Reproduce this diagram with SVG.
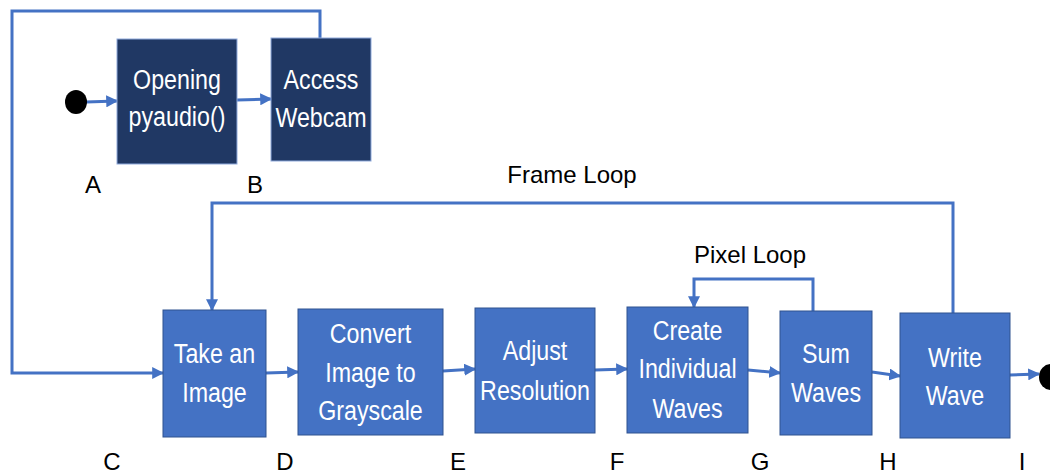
<svg xmlns="http://www.w3.org/2000/svg" width="1050" height="474" viewBox="0 0 1050 474">
<style>
.dark{fill:#203864;stroke:#8FAADC;stroke-width:1}
.box{fill:#4472C4;stroke:#2F528F;stroke-width:1}
.nt{font-family:"Liberation Sans",Arial,sans-serif;font-size:28px;fill:#FFFFFF;text-anchor:middle}
.lb{font-family:"Liberation Sans",Arial,sans-serif;font-size:24px;fill:#000000;text-anchor:middle}
.c{fill:none;stroke:#4472C4;stroke-width:3}
.ca{fill:none;stroke:#4472C4;stroke-width:3;marker-end:url(#ah)}
</style>
<defs>
<marker id="ah" viewBox="0 0 10 10" refX="9" refY="5" markerWidth="4" markerHeight="4" orient="auto" markerUnits="strokeWidth">
<path d="M0,0 L10,5 L0,10 z" fill="#4472C4"/>
</marker>
</defs>
<rect width="1050" height="474" fill="#FFFFFF"/>
<g id="connectors">
<line class="ca" x1="86" y1="102" x2="117" y2="101"/>
<line class="ca" x1="237" y1="100" x2="271" y2="99"/>
<polyline class="ca" points="320,38 320,11 12,11 12,373 163,373"/>
<line class="ca" x1="266" y1="373" x2="298" y2="372"/>
<line class="ca" x1="443" y1="371" x2="475" y2="369"/>
<line class="ca" x1="595" y1="370" x2="627" y2="369"/>
<line class="ca" x1="748" y1="370" x2="780" y2="373"/>
<line class="ca" x1="872" y1="372" x2="900" y2="376"/>
<line class="ca" x1="1010" y1="375" x2="1039" y2="374"/>
<polyline class="ca" points="953,313 953,203 212,203 212,310"/>
<polyline class="ca" points="813,311 813,279 694,279 694,307"/>
</g>
<g id="start"><ellipse cx="76" cy="102" rx="11" ry="12" fill="#000000"/></g>
<g id="end"><ellipse cx="1051" cy="377" rx="12" ry="13" fill="#000000"/></g>
<g id="n1">
<rect class="dark" x="117" y="39" width="120" height="125"/>
<text class="nt" transform="translate(177,0) scale(0.83,1)"><tspan x="0" y="89">Opening</tspan><tspan x="0" y="126">pyaudio()</tspan></text>
</g>
<g id="n2">
<rect class="dark" x="271" y="38" width="100" height="123"/>
<text class="nt" transform="translate(321,0) scale(0.83,1)"><tspan x="0" y="89">Access</tspan><tspan x="0" y="127">Webcam</tspan></text>
</g>
<g id="n3">
<rect class="box" x="163" y="310" width="103" height="127"/>
<text class="nt" transform="translate(214.5,0) scale(0.83,1)"><tspan x="0" y="363">Take an</tspan><tspan x="0" y="402">Image</tspan></text>
</g>
<g id="n4">
<rect class="box" x="298" y="309" width="145" height="126"/>
<text class="nt" transform="translate(370.5,0) scale(0.83,1)"><tspan x="0" y="343">Convert</tspan><tspan x="0" y="382">Image to</tspan><tspan x="0" y="420">Grayscale</tspan></text>
</g>
<g id="n5">
<rect class="box" x="475" y="308" width="120" height="125"/>
<text class="nt" transform="translate(535,0) scale(0.83,1)"><tspan x="0" y="360">Adjust</tspan><tspan x="0" y="400">Resolution</tspan></text>
</g>
<g id="n6">
<rect class="box" x="627" y="307" width="121" height="126"/>
<text class="nt" transform="translate(687.5,0) scale(0.83,1)"><tspan x="0" y="340">Create</tspan><tspan x="0" y="378">Individual</tspan><tspan x="0" y="418">Waves</tspan></text>
</g>
<g id="n7">
<rect class="box" x="780" y="311" width="92" height="124"/>
<text class="nt" transform="translate(826,0) scale(0.83,1)"><tspan x="0" y="363">Sum</tspan><tspan x="0" y="402">Waves</tspan></text>
</g>
<g id="n8">
<rect class="box" x="900" y="313" width="110" height="125"/>
<text class="nt" transform="translate(955,0) scale(0.83,1)"><tspan x="0" y="367">Write</tspan><tspan x="0" y="405">Wave</tspan></text>
</g>
<g id="labels">
<text class="lb" x="572" y="183">Frame Loop</text>
<text class="lb" x="750" y="263">Pixel Loop</text>
<text class="lb" x="93" y="193">A</text>
<text class="lb" x="255" y="193">B</text>
<text class="lb" x="112" y="470">C</text>
<text class="lb" x="285" y="470">D</text>
<text class="lb" x="458" y="470">E</text>
<text class="lb" x="617" y="470">F</text>
<text class="lb" x="760" y="470">G</text>
<text class="lb" x="888" y="470">H</text>
<text class="lb" x="1022" y="470">I</text>
</g>
</svg>
